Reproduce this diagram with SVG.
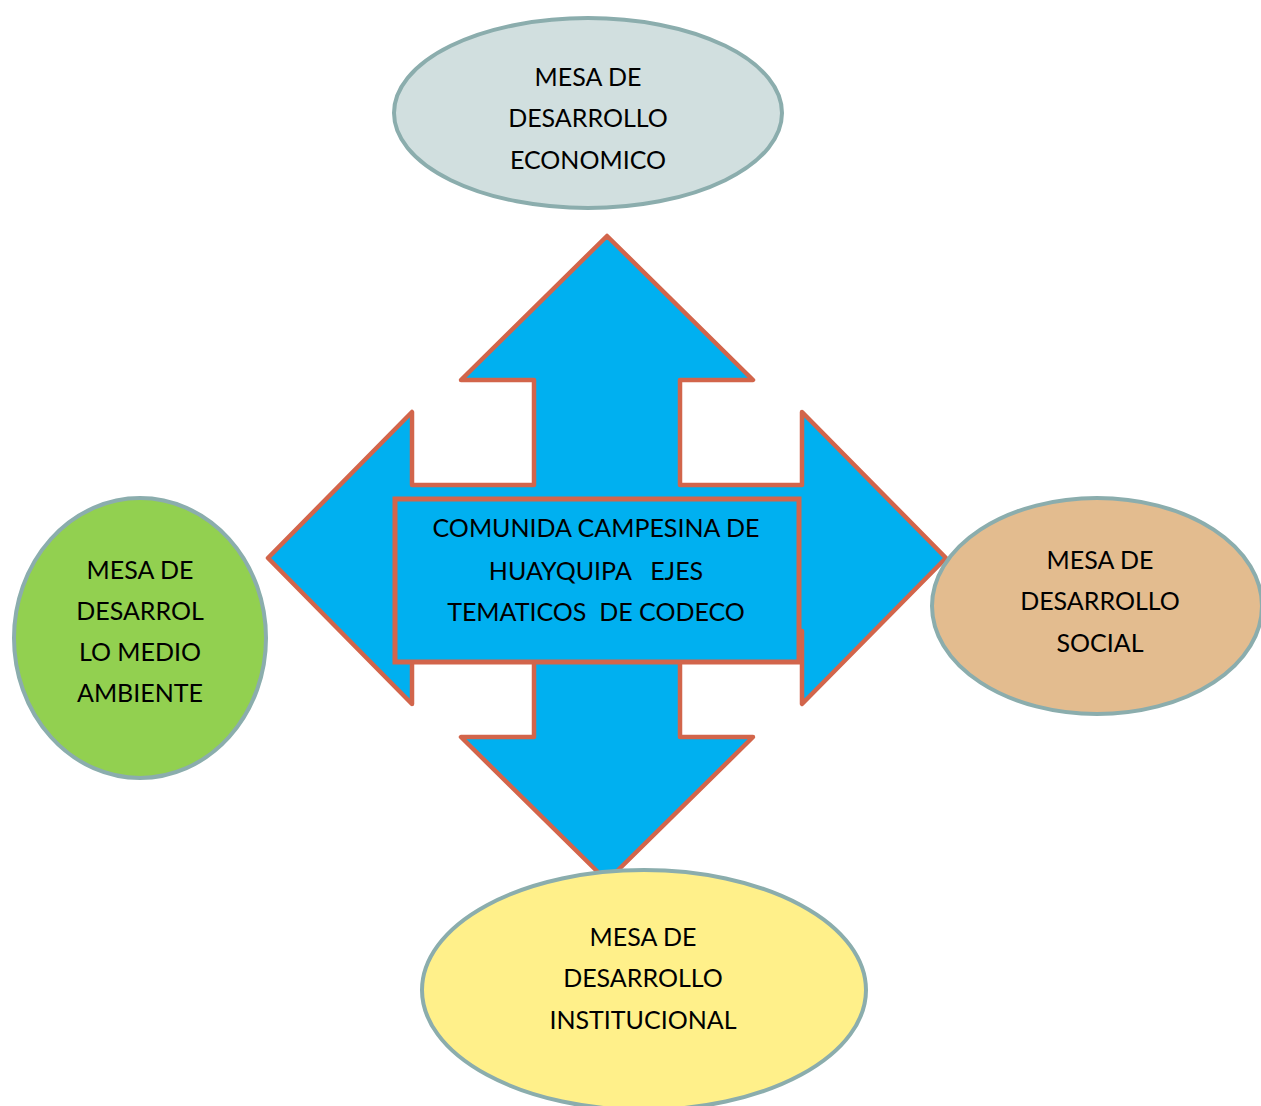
<svg xmlns="http://www.w3.org/2000/svg" width="1261" height="1106" viewBox="0 0 1261 1106">
<style>
.lbl{font-family:Lato,"Liberation Sans",Arial,sans-serif;font-size:25px;fill:#000;text-anchor:middle;white-space:pre}
.ell{stroke:#8BADAD;stroke-width:4}
.blue{fill:#00B0F0;stroke:#D2654B;stroke-width:4.5;stroke-linejoin:round}
</style>
<rect width="1261" height="1106" fill="#fff"/>
<g id="connectors">
<path class="blue" d="M607,236 L753,380 L680,380 L680,485 L802,485 L802,412 L946,558 L802,704 L802,631 L680,631 L680,737 L753,737 L607,881 L461,737 L534,737 L534,631 L412,631 L412,704 L268,558 L412,412 L412,485 L534,485 L534,380 L461,380 Z"/>
</g>
<g id="center">
<rect x="395" y="499" width="404" height="163" fill="#00B0F0" stroke="#D2654B" stroke-width="5"/>
<text class="lbl" x="596" y="537">COMUNIDA CAMPESINA DE</text>
<text class="lbl" x="596" y="580">HUAYQUIPA   EJES</text>
<text class="lbl" x="596" y="621">TEMATICOS  DE CODECO</text>
</g>
<g id="economico">
<ellipse class="ell" cx="588" cy="113" rx="194" ry="95" fill="#D1DFDF"/>
<text class="lbl" x="588" y="86">MESA DE</text>
<text class="lbl" x="588" y="127">DESARROLLO</text>
<text class="lbl" x="588" y="169">ECONOMICO</text>
</g>
<g id="medio-ambiente">
<ellipse class="ell" cx="140" cy="638" rx="126" ry="140" fill="#92D050"/>
<text class="lbl" x="140" y="579">MESA DE</text>
<text class="lbl" x="140" y="620">DESARROL</text>
<text class="lbl" x="140" y="661">LO MEDIO</text>
<text class="lbl" x="140" y="702">AMBIENTE</text>
</g>
<g id="social">
<ellipse class="ell" cx="1097" cy="606" rx="165" ry="108" fill="#E3BC8F"/>
<text class="lbl" x="1100" y="569">MESA DE</text>
<text class="lbl" x="1100" y="610">DESARROLLO</text>
<text class="lbl" x="1100" y="652">SOCIAL</text>
</g>
<g id="institucional">
<ellipse class="ell" cx="644" cy="990" rx="222" ry="120" fill="#FFF08A"/>
<text class="lbl" x="643" y="946">MESA DE</text>
<text class="lbl" x="643" y="987">DESARROLLO</text>
<text class="lbl" x="643" y="1029">INSTITUCIONAL</text>
</g>
</svg>
